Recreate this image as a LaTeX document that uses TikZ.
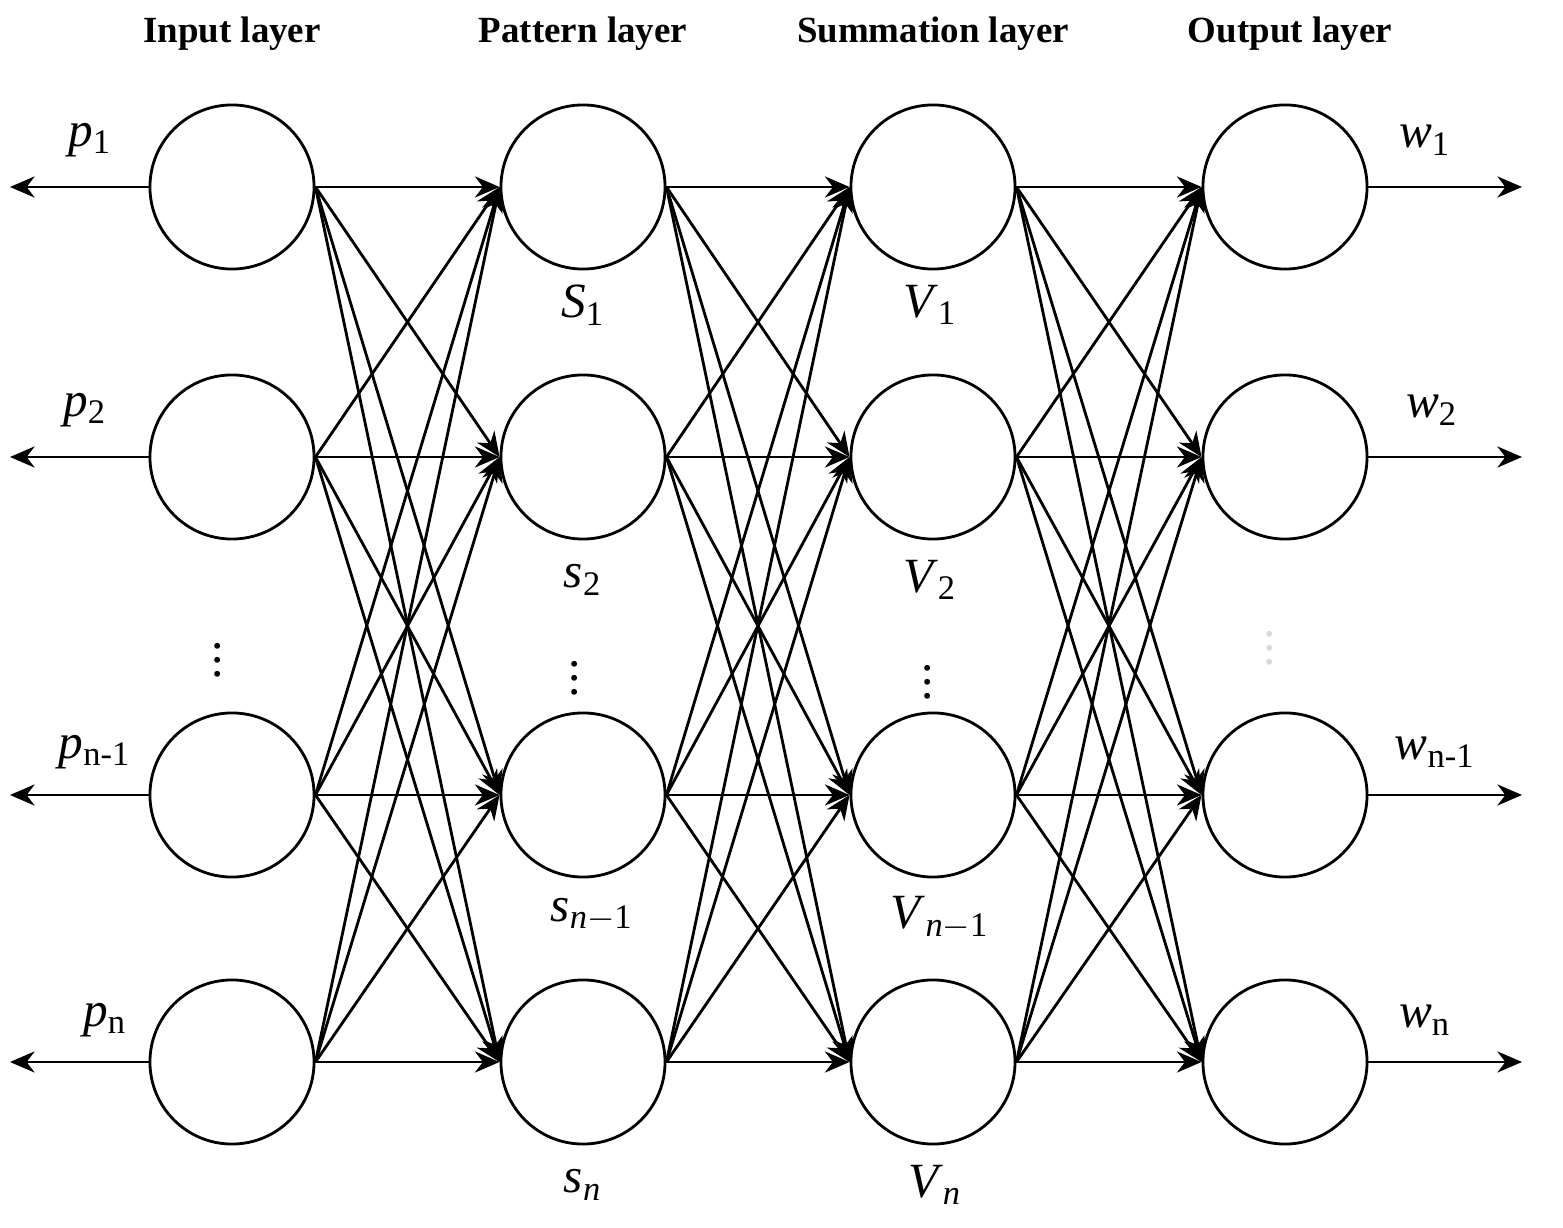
\documentclass[tikz,border=0pt]{standalone}
\usepackage{fontspec}
\setmainfont{Liberation Serif}
\usetikzlibrary{arrows.meta}
\tikzset{
neuron/.style={circle, draw, thick, minimum size=1.64cm, inner sep=0pt}, % the neurons
link/.style={-{Stealth[length=7pt,width=6pt]}, thick}, % edges between layers
head/.style={font=\bfseries\fontsize{10.5}{12}\selectfont}, % layer titles
lab/.style={font=\fontsize{14}{16}\selectfont}, % neuron labels
}

\begin{document}
\begin{tikzpicture}[x=0.01cm, y=-0.01cm]
    \useasboundingbox (0,0) rectangle (1563,1228);

    % layer titles
    \node[head] (hin) at (232,34) {Input layer};
    \node[head] (hpat) at (583,34) {Pattern layer};
    \node[head] (hsum) at (933,34) {Summation layer};
    \node[head] (hout) at (1290,34) {Output layer};

    % neurons
    \foreach \i/\y in {1/187, 2/457, 3/795, 4/1062} {
        \node[neuron] (in\i) at (232,\y) {};
        \node[neuron] (pat\i) at (583,\y) {};
        \node[neuron] (sum\i) at (933,\y) {};
        \node[neuron] (out\i) at (1285,\y) {};
        \coordinate (l\i) at (10,\y);
        \coordinate (r\i) at (1522,\y);
        \draw[link] (in\i.west) -- (l\i);
        \draw[link] (out\i.east) -- (r\i);
    }

    % full connections
    \foreach \a in {1,...,4} {
        \foreach \b in {1,...,4} {
            \draw[link] (in\a.east) -- (pat\b.west);
            \draw[link] (pat\a.east) -- (sum\b.west);
            \draw[link] (sum\a.east) -- (out\b.west);
        }
    }

    % labels
    \node[lab] (p1) at (90,140) {\textit{p}\textsubscript{1}};
    \node[lab] (p2) at (85,410) {\textit{p}\textsubscript{2}};
    \node[lab] (p3) at (95,752) {\textit{p}\textsubscript{n-1}};
    \node[lab] (p4) at (105,1020) {\textit{p}\textsubscript{n}};
    \node[lab] (s1) at (583,305) {\textit{S}\textsubscript{1}};
    \node[lab] (s2) at (583,580) {\textit{s}\textsubscript{2}};
    \node[lab] (s3) at (592,915) {\textit{s}\textsubscript{\textit{n}$-$1}};
    \node[lab] (s4) at (583,1185) {\textit{s}\textsubscript{\textit{n}}};
    \node[lab] (v1) at (930,305) {\textit{V}\textsubscript{1}};
    \node[lab] (v2) at (930,580) {\textit{V}\textsubscript{2}};
    \node[lab] (v3) at (940,918) {\textit{V}\textsubscript{\textit{n}$-$1}};
    \node[lab] (v4) at (935,1185) {\textit{V}\textsubscript{\textit{n}}};
    \node[lab] (w1) at (1425,140) {\textit{w}\textsubscript{1}};
    \node[lab] (w2) at (1432,410) {\textit{w}\textsubscript{2}};
    \node[lab] (w3) at (1435,752) {\textit{w}\textsubscript{n-1}};
    \node[lab] (w4) at (1425,1020) {\textit{w}\textsubscript{n}};

    % vertical dots
    \node[lab] (din) at (218,650) {$\vdots$};
    \node[lab] (dpat) at (575,668) {$\vdots$};
    \node[lab] (dsum) at (928,672) {$\vdots$};
    \node[lab, gray!30] (dout) at (1270,638) {$\vdots$};
\end{tikzpicture}
\end{document}
